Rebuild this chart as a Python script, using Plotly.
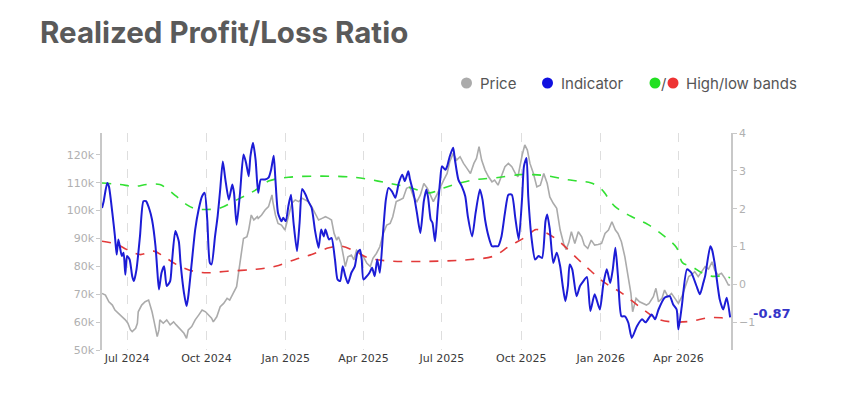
import plotly.graph_objects as go

# ---------------- data ----------------
price_dates = [
    "2024-06-02", "2024-06-06", "2024-06-10", "2024-06-14", "2024-06-17", "2024-06-21", "2024-06-25", "2024-06-29",
    "2024-07-02", "2024-07-05", "2024-07-07", "2024-07-11", "2024-07-13", "2024-07-14", "2024-07-18", "2024-07-22",
    "2024-07-26", "2024-07-28", "2024-07-30",
    "2024-08-01", "2024-08-05", "2024-08-07", "2024-08-08", "2024-08-12", "2024-08-16", "2024-08-20", "2024-08-24",
    "2024-08-27", "2024-08-31",
    "2024-09-05", "2024-09-08", "2024-09-10", "2024-09-14", "2024-09-18", "2024-09-22", "2024-09-26", "2024-09-30",
    "2024-10-04", "2024-10-07", "2024-10-09", "2024-10-13", "2024-10-17", "2024-10-21", "2024-10-25", "2024-10-28",
    "2024-11-01", "2024-11-05", "2024-11-08", "2024-11-11", "2024-11-13", "2024-11-17", "2024-11-19", "2024-11-22",
    "2024-11-25", "2024-11-29", "2024-11-30",
    "2024-12-04", "2024-12-08", "2024-12-12", "2024-12-16", "2024-12-17", "2024-12-20", "2024-12-23", "2024-12-27",
    "2024-12-31",
    "2025-01-04", "2025-01-08", "2025-01-12", "2025-01-16", "2025-01-20", "2025-01-24", "2025-01-27", "2025-01-31",
    "2025-02-04", "2025-02-08", "2025-02-12", "2025-02-16", "2025-02-20", "2025-02-23", "2025-02-26",
    "2025-03-01", "2025-03-03", "2025-03-06", "2025-03-09", "2025-03-11", "2025-03-14", "2025-03-18", "2025-03-21",
    "2025-03-24", "2025-03-28",
    "2025-04-01", "2025-04-05", "2025-04-09", "2025-04-12", "2025-04-16", "2025-04-20", "2025-04-24", "2025-04-28",
    "2025-05-02", "2025-05-05", "2025-05-09", "2025-05-13", "2025-05-17", "2025-05-21", "2025-05-25", "2025-05-29",
    "2025-06-02", "2025-06-06", "2025-06-10", "2025-06-14", "2025-06-18", "2025-06-21", "2025-06-25", "2025-06-29",
    "2025-07-03", "2025-07-07", "2025-07-10", "2025-07-14", "2025-07-18", "2025-07-22", "2025-07-26", "2025-07-30",
    "2025-08-03", "2025-08-07", "2025-08-10", "2025-08-13", "2025-08-16", "2025-08-20", "2025-08-24", "2025-08-28",
    "2025-08-31",
    "2025-09-04", "2025-09-08", "2025-09-12", "2025-09-16", "2025-09-20", "2025-09-24", "2025-09-27",
    "2025-10-02", "2025-10-05", "2025-10-08", "2025-10-11", "2025-10-15", "2025-10-19", "2025-10-23", "2025-10-27",
    "2025-10-31",
    "2025-11-03", "2025-11-07", "2025-11-11", "2025-11-15", "2025-11-19", "2025-11-22", "2025-11-25", "2025-11-28",
    "2025-12-02", "2025-12-06", "2025-12-10", "2025-12-13", "2025-12-17", "2025-12-21", "2025-12-25", "2025-12-29",
    "2026-01-02", "2026-01-06", "2026-01-10", "2026-01-14", "2026-01-18", "2026-01-21", "2026-01-25", "2026-01-29",
    "2026-02-02", "2026-02-05", "2026-02-07", "2026-02-11", "2026-02-15", "2026-02-19", "2026-02-23", "2026-02-26",
    "2026-03-03", "2026-03-06", "2026-03-09", "2026-03-13", "2026-03-16", "2026-03-20", "2026-03-24", "2026-03-28",
    "2026-04-01", "2026-04-05", "2026-04-09", "2026-04-13", "2026-04-16", "2026-04-20", "2026-04-24", "2026-04-28",
    "2026-05-02", "2026-05-06", "2026-05-10", "2026-05-13", "2026-05-17", "2026-05-21", "2026-05-25", "2026-05-29",
    "2026-05-31",
]
price_k = [
    70.3, 69.7, 67.3, 66.1, 64.3, 63.2, 61.9, 60.8,
    59.6, 57.2, 56.6, 57.8, 59.6, 63.7, 66.1, 67.3,
    67.9, 66.1, 63.7,
    60.8, 54.8, 57.2, 60.8, 59.6, 60.8, 59.0, 60.1,
    59.0, 57.8,
    56.0, 54.2, 57.2, 58.4, 60.8, 62.5, 64.3, 63.7,
    62.5, 61.4, 60.1, 61.9, 65.5, 66.7, 68.5, 67.9,
    70.3, 72.7, 79.3, 85.8, 90.0, 90.6, 93.0, 98.4,
    96.6, 97.8, 97.2,
    98.4, 100.2, 101.4, 105.6, 103.2, 98.4, 95.4, 94.8,
    93.0,
    97.8, 102.6, 103.8, 103.2, 104.4, 103.8, 103.2, 101.4,
    99.0, 96.6, 97.2, 97.8, 97.2, 96.6, 91.8,
    89.4, 90.6, 88.2, 83.4, 79.9, 83.4, 84.0, 82.3,
    85.8, 84.6,
    83.4, 81.1, 79.9, 82.9, 84.6, 87.0, 91.8, 94.8,
    95.4, 97.8, 103.2, 103.8, 104.4, 108.0, 108.5, 105.0,
    103.2, 105.6, 109.7, 108.0, 104.9, 103.2, 105.6, 108.5,
    110.9, 113.3, 117.5, 120.5, 118.1, 119.3, 116.9, 115.1,
    113.3, 116.9, 118.7, 122.9, 118.1, 114.5, 112.1, 110.3,
    110.9,
    109.1, 112.7, 115.7, 116.9, 115.7, 113.3, 112.1,
    119.9, 123.5, 121.7, 116.9, 113.3, 108.5, 109.1, 113.3,
    109.7,
    104.9, 102.6, 100.8, 93.0, 88.2, 86.0, 88.5, 92.4,
    88.2, 92.4, 90.6, 87.6, 86.4, 89.4, 87.6, 87.8,
    88.2, 91.8, 93.0, 96.0, 93.0, 91.8, 88.8, 83.4,
    76.3, 70.3, 63.7, 68.5, 67.3, 66.7, 66.1, 66.7,
    69.1, 72.1, 67.3, 68.5, 71.5, 69.1, 70.3, 68.5,
    66.7, 69.1, 72.7, 76.3, 76.9, 78.1, 76.3, 78.1,
    79.9, 79.0, 81.6, 78.7, 76.9, 77.5, 75.7, 73.3,
    73.3,
]

indicator_dates = [
    "2024-06-02", "2024-06-04", "2024-06-08", "2024-06-10", "2024-06-14", "2024-06-17", "2024-06-19", "2024-06-21",
    "2024-06-25", "2024-06-27", "2024-06-29",
    "2024-07-01", "2024-07-04", "2024-07-07", "2024-07-09", "2024-07-12", "2024-07-16", "2024-07-20", "2024-07-23",
    "2024-07-27", "2024-07-30",
    "2024-08-03", "2024-08-05", "2024-08-07", "2024-08-10", "2024-08-13", "2024-08-16", "2024-08-20", "2024-08-22",
    "2024-08-26", "2024-08-30",
    "2024-09-01", "2024-09-05", "2024-09-08", "2024-09-10", "2024-09-14", "2024-09-18", "2024-09-22", "2024-09-26",
    "2024-09-29",
    "2024-10-02", "2024-10-05", "2024-10-07", "2024-10-11", "2024-10-14", "2024-10-17", "2024-10-20", "2024-10-23",
    "2024-10-27", "2024-10-31",
    "2024-11-02", "2024-11-05", "2024-11-09", "2024-11-13", "2024-11-16", "2024-11-19", "2024-11-21", "2024-11-24",
    "2024-11-27", "2024-11-30",
    "2024-12-03", "2024-12-08", "2024-12-12", "2024-12-15", "2024-12-18", "2024-12-20", "2024-12-23", "2024-12-27",
    "2024-12-29",
    "2025-01-01", "2025-01-04", "2025-01-07", "2025-01-10", "2025-01-14", "2025-01-17", "2025-01-20", "2025-01-24",
    "2025-01-27", "2025-01-31",
    "2025-02-04", "2025-02-08", "2025-02-11", "2025-02-14", "2025-02-16", "2025-02-20", "2025-02-23", "2025-02-27",
    "2025-03-02", "2025-03-05", "2025-03-08", "2025-03-11", "2025-03-14", "2025-03-18", "2025-03-22", "2025-03-25",
    "2025-03-28", "2025-03-30",
    "2025-04-01", "2025-04-05", "2025-04-08", "2025-04-11", "2025-04-14", "2025-04-17", "2025-04-20", "2025-04-24",
    "2025-04-27", "2025-04-30",
    "2025-05-04", "2025-05-08", "2025-05-12", "2025-05-16", "2025-05-19", "2025-05-23", "2025-05-25", "2025-05-29",
    "2025-06-02", "2025-06-06", "2025-06-10", "2025-06-13", "2025-06-15", "2025-06-18", "2025-06-20", "2025-06-23",
    "2025-06-26", "2025-06-29",
    "2025-07-01", "2025-07-05", "2025-07-07", "2025-07-10", "2025-07-14", "2025-07-16", "2025-07-20", "2025-07-24",
    "2025-07-28", "2025-07-31",
    "2025-08-05", "2025-08-09", "2025-08-14", "2025-08-17", "2025-08-20", "2025-08-24", "2025-08-28",
    "2025-09-01", "2025-09-04", "2025-09-08", "2025-09-12", "2025-09-16", "2025-09-20", "2025-09-24", "2025-09-28",
    "2025-10-02", "2025-10-04", "2025-10-07", "2025-10-09", "2025-10-13", "2025-10-17", "2025-10-21", "2025-10-25",
    "2025-10-29", "2025-10-31",
    "2025-11-03", "2025-11-07", "2025-11-11", "2025-11-15", "2025-11-18", "2025-11-21", "2025-11-24", "2025-11-26",
    "2025-11-29",
    "2025-12-04", "2025-12-08", "2025-12-12", "2025-12-16", "2025-12-20", "2025-12-25", "2025-12-31",
    "2026-01-04", "2026-01-08", "2026-01-12", "2026-01-15", "2026-01-18", "2026-01-21", "2026-01-25", "2026-01-29",
    "2026-02-02", "2026-02-06", "2026-02-12", "2026-02-18", "2026-02-22",
    "2026-03-01", "2026-03-05", "2026-03-09", "2026-03-16", "2026-03-22", "2026-03-26", "2026-03-30",
    "2026-04-01", "2026-04-05", "2026-04-11", "2026-04-16", "2026-04-22", "2026-04-26", "2026-04-30",
    "2026-05-02", "2026-05-08", "2026-05-10", "2026-05-13", "2026-05-19", "2026-05-23", "2026-05-27", "2026-05-31",
]
indicator = [
    2.02, 2.20, 2.68, 2.59, 1.89, 1.27, 0.79, 1.19,
    0.75, 0.84, 0.26,
    0.75, 0.66, 0.22, 0.09, 0.40, 1.27, 2.20, 2.20,
    1.98, 1.71,
    1.01, 0.40, -0.13, 0.31, 0.48, -0.04, 0.09, 0.57,
    1.41, 1.14,
    0.57, -0.22, -0.57, -0.31, 0.57, 1.45, 1.98, 2.33,
    2.42,
    1.71, 0.57, 0.53, 1.27, 1.80, 2.51, 3.25, 2.77,
    2.24, 2.64,
    2.42, 1.58, 2.42, 3.43, 3.21, 2.86, 3.38, 3.74,
    3.30, 2.42,
    2.77, 2.77, 2.82, 3.03, 3.40, 2.77, 1.89, 1.67,
    1.76,
    1.67, 2.07, 2.37, 1.63, 0.88, 1.63, 2.52, 2.37,
    2.20, 2.02,
    1.41, 0.97, 1.45, 1.27, 1.45, 1.19, 1.23, 0.66,
    0.13, 0.09, 0.48, 0.22, 0.03, 0.31, 0.48, 0.84,
    0.92, 0.66,
    0.13, 0.22, 0.31, 0.44, 0.22, 0.66, 0.31, 1.45,
    2.24, 2.55,
    2.46, 2.29, 2.68, 2.90, 2.73, 2.99, 2.77, 2.42,
    1.89, 1.36, 2.20, 2.51, 2.29, 1.71, 1.63, 1.14,
    1.98, 2.77,
    3.12, 3.03, 3.12, 3.38, 3.61, 3.30, 2.77, 2.59,
    2.33, 1.80,
    1.27, 1.89, 2.51, 2.24, 1.71, 1.27, 1.01,
    1.01, 1.01, 1.27, 1.89, 2.37, 2.37, 1.76, 1.19,
    2.33, 3.12, 3.34, 2.33, 1.19, 0.66, 0.75, 0.70,
    1.67, 1.85,
    1.45, 0.57, 0.84, 0.48, -0.04, -0.44, -0.04, 0.53,
    0.40,
    -0.31, -0.04, 0.09, 0.20, -0.70, -0.26, -0.66,
    0.00, 0.40, 0.04, 0.40, 0.97, 0.22, -0.84, -0.84,
    -1.01, -1.41, -1.10, -0.92, -1.00,
    -0.79, -0.92, -0.66, -0.35, -0.31, -0.53, -0.66,
    -1.19, -0.57, 0.40, 0.31, -0.04, -0.26, 0.05,
    0.22, 1.01, 0.92, 0.57, -0.40, -0.66, -0.35, -0.87,
]

high_band_dates = [
    "2024-06-02", "2024-06-23", "2024-07-09", "2024-07-24", "2024-08-08", "2024-08-15", "2024-08-27", "2024-09-08",
    "2024-09-18", "2024-10-02", "2024-10-17", "2024-11-02", "2024-11-17", "2024-11-29", "2024-12-12", "2025-01-04",
    "2025-02-12", "2025-03-22", "2025-04-18", "2025-05-08", "2025-05-26", "2025-06-17", "2025-07-03", "2025-07-22",
    "2025-08-10", "2025-09-02", "2025-09-29", "2025-10-15", "2025-11-03", "2025-11-22", "2025-12-06", "2025-12-21",
    "2026-01-02", "2026-01-17", "2026-02-05", "2026-02-25", "2026-03-16", "2026-03-30", "2026-04-06", "2026-04-16",
    "2026-04-28", "2026-05-09", "2026-05-21", "2026-05-31",
]
high_band = [
    2.68, 2.64, 2.59, 2.64, 2.64, 2.55, 2.33, 2.11,
    2.00, 1.98, 2.02, 2.20, 2.37, 2.52, 2.73, 2.83,
    2.86, 2.83, 2.73, 2.64, 2.55, 2.42, 2.55, 2.68,
    2.77, 2.82, 2.90, 2.90, 2.86, 2.77, 2.73, 2.68,
    2.51, 2.07, 1.80, 1.58, 1.27, 0.97, 0.57, 0.48,
    0.31, 0.22, 0.22, 0.18,
]

low_band_dates = [
    "2024-06-02", "2024-06-19", "2024-07-01", "2024-07-16", "2024-08-01", "2024-08-12", "2024-08-27", "2024-09-16",
    "2024-10-02", "2024-10-25", "2024-11-27", "2024-12-20", "2025-01-12", "2025-01-31", "2025-02-20", "2025-03-07",
    "2025-03-22", "2025-04-07", "2025-04-30", "2025-07-03", "2025-08-03", "2025-08-30", "2025-09-17", "2025-10-07",
    "2025-10-18", "2025-10-30", "2025-11-11", "2025-11-22", "2025-12-06", "2025-12-21", "2026-01-06", "2026-01-25",
    "2026-02-17", "2026-03-09", "2026-03-28", "2026-04-16", "2026-05-05", "2026-05-21", "2026-05-31",
]
low_band = [
    1.14, 1.06, 0.92, 0.79, 0.88, 0.75, 0.53, 0.35,
    0.31, 0.35, 0.40, 0.48, 0.66, 0.79, 0.97, 1.01,
    0.88, 0.70, 0.62, 0.62, 0.66, 0.75, 1.01, 1.27,
    1.45, 1.36, 1.19, 0.97, 0.66, 0.35, 0.04, -0.22,
    -0.62, -0.92, -0.99, -0.97, -0.88, -0.88, -0.92,
]

price_ticks = [50, 60, 70, 80, 90, 100, 110, 120]
price_tick_text = ["50k", "60k", "70k", "80k", "90k", "100k", "110k", "120k"]
indicator_ticks = [-1, 0, 1, 2, 3, 4]

# ---------------- styling / layout ----------------
W, H = 860, 408
L, R, T, B = 102, 129, 133, 58
PW, PH = W - L - R, H - T - B


def paper_x(px):
    return (px - L) / PW


def paper_y(py):
    return (H - B - py) / PH


GRAY = "#ababab"
BLUE = "#1c1cd6"
GREEN = "#33e033"
RED = "#e23a3a"
AXIS = "#c8c8c8"

fig = go.Figure()
fig.add_trace(go.Scatter(x=price_dates, y=price_k, mode="lines", name="Price",
                         line=dict(color=GRAY, width=1.6), yaxis="y"))
fig.add_trace(go.Scatter(x=high_band_dates, y=high_band, mode="lines", name="High band",
                         line=dict(color=GREEN, width=1.6, dash="dash", shape="spline"), yaxis="y2"))
fig.add_trace(go.Scatter(x=low_band_dates, y=low_band, mode="lines", name="Low band",
                         line=dict(color=RED, width=1.6, dash="dash", shape="spline"), yaxis="y2"))
fig.add_trace(go.Scatter(x=indicator_dates, y=indicator, mode="lines", name="Indicator",
                         line=dict(color=BLUE, width=2, shape="spline", smoothing=0.6), yaxis="y2"))

tick_font = dict(family="DejaVu Sans", size=11, color="#b0b0b0")

fig.update_layout(
    width=W, height=H,
    margin=dict(l=L, r=R, t=T, b=B, autoexpand=False),
    paper_bgcolor="white", plot_bgcolor="white",
    showlegend=False,
    title=dict(text="<b>Realized Profit/Loss Ratio</b>", x=40 / W, xanchor="left",
               y=1 - 33 / H, yanchor="middle", xref="container", yref="container",
               font=dict(family="Inter", size=29.5, color="#5a5a5a")),
    xaxis=dict(type="date", range=["2024-06-02", "2026-06-01"],
               tick0="2024-07-01", dtick="M3", tickformat="%b %Y",
               showgrid=True, gridcolor="#dedede", griddash="dash", gridwidth=1,
               showline=False, zeroline=False, ticks="",
               tickfont=dict(family="DejaVu Sans", size=11, color="#3a3a3a")),
    yaxis=dict(range=[50, 127.8], tickmode="array", tickvals=price_ticks, ticktext=price_tick_text,
               showgrid=False, zeroline=False, showline=True, linecolor=AXIS, linewidth=1.5,
               ticks="outside", ticklen=4, tickcolor=AXIS, tickfont=tick_font),
    yaxis2=dict(range=[-1.73, 4.0], tickvals=indicator_ticks, overlaying="y", side="right",
                showgrid=False, zeroline=False, showline=True, linecolor=AXIS, linewidth=1.5,
                ticks="outside", ticklen=4, tickcolor=AXIS, tickfont=tick_font),
)

# last-value label
fig.add_annotation(x=paper_x(751), xref="paper", y=indicator[-1], yref="y2", yshift=4,
                   text=f"<b>{indicator[-1]:.2f}</b>", showarrow=False, xanchor="left", yanchor="middle",
                   font=dict(family="DejaVu Sans", size=13, color="#3434c8"))

# custom legend
legend_y = paper_y(83)
legend_font = dict(family="Inter", size=15, color="#555555")
for cx, col in [(466.5, GRAY), (547.5, "#1010e0"), (655, "#22e022"), (673, "#ee3333")]:
    fig.add_shape(type="circle", xref="paper", yref="paper", xsizemode="pixel", ysizemode="pixel",
                  xanchor=paper_x(cx), yanchor=legend_y, x0=-5.5, x1=5.5, y0=-5.5, y1=5.5,
                  fillcolor=col, line=dict(width=0))
for tx, txt, anchor in [(478, "Price", "left"), (559, "Indicator", "left"),
                        (664, "/", "center"), (684, "High/low bands", "left")]:
    fig.add_annotation(x=paper_x(tx), y=legend_y, xref="paper", yref="paper", text=txt,
                       showarrow=False, xanchor=anchor, yanchor="middle", font=legend_font)

fig.write_html("out.html")
